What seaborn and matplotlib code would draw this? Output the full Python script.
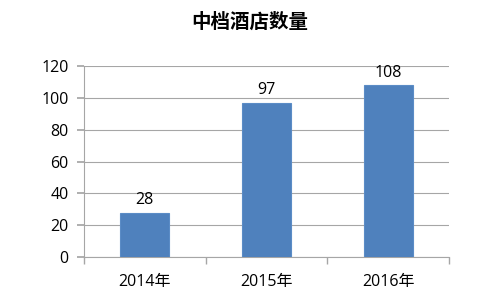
import matplotlib
matplotlib.use("Agg")
import matplotlib.pyplot as plt
import seaborn as sns
import pandas as pd

categories = ["2014年", "2015年", "2016年"]
values = [28, 97, 108]
yticks = [0, 20, 40, 60, 80, 100, 120]
title = "中档酒店数量"

sns.set_theme(style="white")
plt.rcParams['font.family'] = ['Open Sans', 'Noto Sans CJK SC', 'DejaVu Sans']
plt.rcParams['text.color'] = 'black'

df = pd.DataFrame({"year": categories, "count": values})

fig = plt.figure(figsize=(5, 3), dpi=100)
ax = fig.add_axes([0.168, 0.143, 0.73, 0.637])
sns.barplot(data=df, x="year", y="count", color="#4F81BD", width=0.4,
            saturation=1, edgecolor="#5B8CC6", linewidth=0.8, ax=ax, zorder=3)

ax.set_ylim(0, 120)
ax.set_yticks(yticks)
ax.set_xlim(-0.5, 2.5)
ax.yaxis.grid(True, color="#A6A6A6", linewidth=0.8, zorder=0)
ax.set_axisbelow(True)
for s in ["top", "right"]:
    ax.spines[s].set_visible(False)
for s in ["left", "bottom"]:
    ax.spines[s].set_color("#A6A6A6")
    ax.spines[s].set_linewidth(0.8)

ax.set_xlabel("")
ax.set_ylabel("")
ax.tick_params(axis="y", which="major", left=True, length=5, color="#A6A6A6",
               labelsize=11.5, pad=6, labelcolor="black")
ax.tick_params(axis="x", which="major", bottom=False, labelsize=11.5, pad=6,
               labelcolor="black")
ax.set_xticks([-0.5, 0.5, 1.5, 2.5], minor=True)
ax.tick_params(axis="x", which="minor", bottom=True, length=5, color="#A6A6A6")

for c in ax.containers:
    ax.bar_label(c, labels=[str(v) for v in values], padding=3, fontsize=11.5,
                 color="black")

fig.text(0.5, 0.925, title, ha="center", va="center", fontsize=14,
         fontweight="bold", color="black",
         family=['Noto Sans CJK SC', 'DejaVu Sans'])

fig.savefig("out.png", dpi=100, facecolor="white")
